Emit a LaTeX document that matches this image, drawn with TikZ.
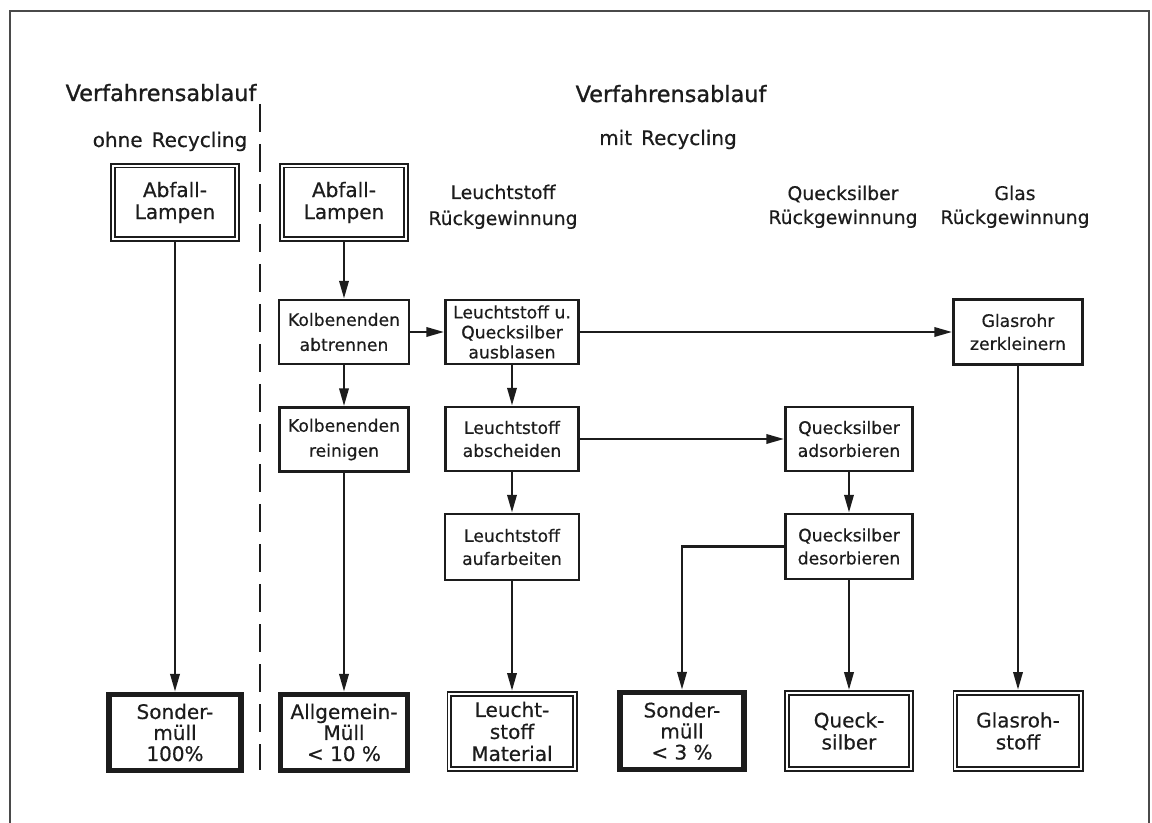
\documentclass[tikz,border=0pt]{standalone}
\usepackage{fontspec}
\setmainfont{DejaVu Sans}[FakeBold=0.5]
\newfontfamily\headfont{DejaVu Sans}[FakeBold=1.2]
\usetikzlibrary{arrows.meta}
\definecolor{ink}{HTML}{1C1C1C}
\definecolor{framec}{HTML}{4A4A4A}
\begin{document}
\begin{tikzpicture}[x=0.5pt,y=-0.5pt,
  every node/.style={text=ink, inner sep=0pt, align=center},
  plain/.style={draw=ink, line width=1.2pt, font=\fontsize{8.6}{11.5}\selectfont},
  dbl/.style={draw=ink, double=white, line width=0.85pt, double distance=1.1pt, outer sep=1.4pt, font=\fontsize{10}{11}\selectfont},
  heavy/.style={draw=ink, line width=2.6pt, font=\fontsize{10}{10.5}\selectfont},
  head/.style={font=\headfont\fontsize{11.2}{13}\selectfont, anchor=base},
  sub/.style={font=\fontsize{10}{12}\selectfont, anchor=base},
  colhead/.style={font=\fontsize{9.4}{12}\selectfont, anchor=base},
  arr/.style={draw=ink, line width=1.4pt, -{Triangle[length=9pt,width=4.6pt]}}]
\useasboundingbox (0,0) rectangle (1152,823);
% frame
\coordinate (fbl) at (10,823);
\coordinate (ftl) at (10,11);
\coordinate (ftr) at (1149,11);
\coordinate (fbr) at (1149,823);
\draw[framec, line width=0.8pt] (fbl) -- (ftl) -- (ftr) -- (fbr);
% separator
\coordinate (sept) at (260,104);
\coordinate (sepb) at (260,770);
\draw[ink, line width=0.7pt, dash pattern=on 14pt off 6pt] (sept) -- (sepb);
% headings
\node[head] (h1) at (161,101) {Verfahrensablauf};
\node[head] (h2) at (671,102) {Verfahrensablauf};
\node[sub] (s1) at (170,147) {ohne\hspace{0.45em}Recycling};
\node[sub] (s2) at (668,145) {mit\hspace{0.45em}Recycling};
\node[colhead] (c1a) at (503,199) {Leuchtstoff};
\node[colhead] (c1b) at (503,225) {Rückgewinnung};
\node[colhead] (c2a) at (843,200) {Quecksilber};
\node[colhead] (c2b) at (843,224) {Rückgewinnung};
\node[colhead] (c3a) at (1015,200) {Glas};
\node[colhead] (c3b) at (1015,224) {Rückgewinnung};
% top boxes
\node[dbl, minimum width=61.8pt, minimum height=36.8pt] (AL) at (175,202.5) {Abfall-\\Lampen};
\node[dbl, minimum width=61.8pt, minimum height=36.8pt] (AR) at (344,202.5) {Abfall-\\Lampen};
% process boxes
\node[plain, minimum width=65pt, minimum height=32pt, font=\fontsize{8.6}{12.5}\selectfont] (K1) at (344,332) {Kolbenenden\\abtrennen};
\node[plain, minimum width=64.5pt, minimum height=32pt, font=\fontsize{8.6}{12.5}\selectfont] (K2) at (344,439.5) {Kolbenenden\\reinigen};
\node[plain, minimum width=66.5pt, minimum height=32pt, font=\fontsize{8.6}{10}\selectfont] (LQ) at (512,332) {Leuchtstoff u.\\Quecksilber\\ausblasen};
\node[plain, minimum width=66.5pt, minimum height=32pt] (LA) at (512,439) {Leuchtstoff\\abscheiden};
\node[plain, minimum width=67pt, minimum height=33pt] (LF) at (512,547) {Leuchtstoff\\aufarbeiten};
\node[plain, minimum width=63.5pt, minimum height=32pt] (QA) at (849,439) {Quecksilber\\adsorbieren};
\node[plain, minimum width=63.5pt, minimum height=32.5pt] (QD) at (849,546.5) {Quecksilber\\desorbieren};
\node[plain, minimum width=64.5pt, minimum height=32.5pt] (GZ) at (1018,332) {Glasrohr\\zerkleinern};
% result boxes
\node[heavy, minimum width=66pt, minimum height=38pt] (S1) at (175,732.5) {Sonder-\\müll\\100\%};
\node[heavy, minimum width=63.5pt, minimum height=38pt] (AM) at (344,732.5) {Allgemein-\\Müll\\< 10 \%};
\node[dbl, minimum width=62.7pt, minimum height=37.7pt] (LM) at (512,731.5) {Leucht-\\stoff\\Material};
\node[heavy, minimum width=62pt, minimum height=38.5pt] (S3) at (682,731) {Sonder-\\müll\\< 3 \%};
\node[dbl, minimum width=62pt, minimum height=38pt] (QS) at (849,731) {Queck-\\silber};
\node[dbl, minimum width=62.7pt, minimum height=38.2pt] (GR) at (1018,731) {Glasroh-\\stoff};
% connectors
\draw[arr] (AL) -- (S1);
\draw[arr] (AR) -- (K1);
\draw[arr] (K1) -- (K2);
\draw[arr] (K2) -- (AM);
\draw[arr] (K1) -- (LQ);
\draw[arr] (LQ) -- (GZ);
\draw[arr] (LQ) -- (LA);
\draw[arr] (LA) -- (LF);
\draw[arr] (LF) -- (LM);
\draw[arr] (LA) -- (QA);
\draw[arr] (QA) -- (QD);
\draw[arr] (QD.west) -| (S3.north);
\draw[arr] (QD) -- (QS);
\draw[arr] (GZ) -- (GR);
\end{tikzpicture}
\end{document}
